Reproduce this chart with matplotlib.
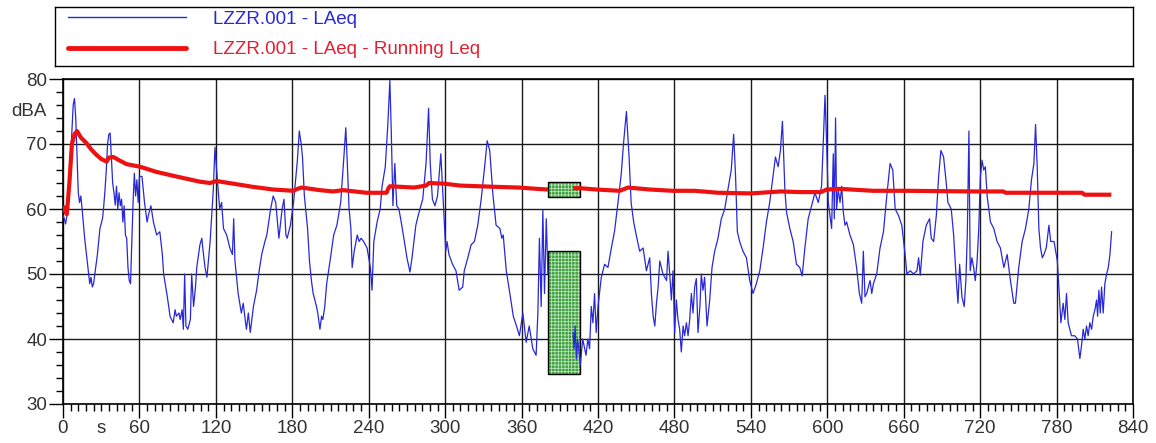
import numpy as np
import matplotlib
matplotlib.use("Agg")
import matplotlib.pyplot as plt
from matplotlib.patches import Rectangle
from matplotlib.lines import Line2D

plt.rcParams['font.family'] = ['Liberation Sans', 'DejaVu Sans']
plt.rcParams['hatch.linewidth'] = 0.6

# LAeq (blue) - time in s, level in dBA; None = no data
laeq_t = [0, 1, 2, 4, 6, 8, 9, 10, 11, 12, 13, 14, 15, 17, 19, 21, 22, 23, 24, 25, 27, 29, 31, 32, 33, 34, 35, 36, 37, 38, 39, 40,
          41, 42, 43, 44, 45, 46, 47, 48, 49, 50, 51, 52, 53, 54, 55, 56, 57, 58, 59, 60, 62, 64, 66, 67, 69, 71, 73.5, 76, 78, 79,
          81.5, 83, 84, 86.5, 88, 89, 91, 92, 93.5, 94.5, 95.5, 96.5, 98, 100, 101, 102.5, 104, 105, 107.5, 109, 110, 111.5, 113,
          115.5, 118, 119.3, 121, 123, 124.5, 126, 128.5, 131, 133, 134, 135, 137.5, 140, 141.5, 143, 144, 145.5, 147, 149.5,
          152, 154, 156, 158.5, 160, 163, 165, 167, 169.5, 172, 173.5, 175, 176, 178.5, 181, 184, 185.5, 187, 188, 189.5, 192,
          193.5, 195, 196.4, 197.7, 199, 200, 201.7, 203, 204, 205.5, 207, 210, 212.5, 215, 218, 220.5, 222, 223, 224.6, 226,
          227, 228.6, 231, 232.5, 234, 236, 238.7, 241.3, 242.6, 244, 246.6, 249, 250.5, 253, 255, 256.6, 257.7, 259, 260.5,
          262, 263.7, 265.5, 267.6, 270, 272.4, 274, 277, 279.5, 282.4, 285, 287, 288.3, 290, 292, 294, 296.6, 298, 299.2,
          300.5, 301.5, 303, 305.8, 308.5, 311, 313.8, 315, 317.8, 320.4, 323, 325.6, 328.3, 331, 333, 335, 337.6, 340, 343,
          344.5, 345.6, 348, 350.8, 353.5, 356, 358.3, 361, 363.6, 366, 368.8, 371.4, 372.8, 374, 375.4, 376.7, 378, 379.4,
          380.7, 390, 400.4, 401.2, 402, 403, 404, 406.1, 408, 410.6, 412, 413.4, 414.7, 416, 417.3, 418.6, 420, 422.6, 425.2,
          427.8, 430.5, 433, 435.7, 438.3, 440, 442.3, 444.4, 446, 448, 450, 452.7, 455.4, 458, 460.6, 461.9, 463.3, 464.6,
          465.9, 467.2, 468.5, 471, 473.8, 475, 476.3, 477.6, 478.9, 480.2, 481.5, 482.8, 484.1, 485.4, 486.8, 488, 489.4,
          490.7, 492, 493.3, 494.6, 495.9, 497.2, 498.5, 500, 501.1, 502.4, 503.7, 505.6, 507.7, 509.5, 511.6, 514.2, 516.8,
          519.5, 522, 524.6, 526.5, 528, 529.4, 531.2, 533.8, 536.5, 539.1, 541.7, 544.3, 547, 549.6, 552.2, 554.8, 557.4,
          559.3, 561.4, 563.2, 564.8, 566.7, 568, 570.6, 573.2, 575.8, 578.4, 580.3, 582.4, 585, 587.7, 590.3, 592.9, 595.5,
          596.8, 598.2, 599.5, 600.8, 602.1, 603.4, 604.7, 605.5, 606.5, 607.3, 608.6, 610, 611.3, 612.6, 613.9, 615.2, 617.8,
          620.5, 623, 625.2, 627, 628.3, 629.6, 630.9, 633.6, 634.9, 636.2, 638.8, 641.4, 644.1, 646.7, 649.3, 651.4, 653.3,
          655.9, 658.5, 661.1, 662.5, 665.1, 667.7, 670.4, 671.7, 673, 675.1, 677.7, 680.3, 681.6, 683.5, 685.6, 687.4, 689.2,
          691.3, 693.4, 694.7, 697.3, 699.2, 701.3, 702.6, 703.9, 705.7, 707.5, 708.8, 709.9, 711.2, 712.2, 713.5, 714.9,
          716.2, 717.6, 718.9, 720.2, 721.5, 722.8, 724.1, 725.5, 728.1, 730.7, 733.3, 735.9, 738.6, 741.2, 743.8, 746.4,
          747.7, 750.3, 753, 755.6, 758.2, 760.3, 762.2, 763.5, 764.8, 766.1, 767.4, 768.8, 770.1, 771.9, 774, 775.4, 778,
          780.6, 781.8, 783.4, 785.2, 786.5, 787.8, 789.1, 790.4, 791.7, 794.3, 796.4, 798.3, 799.6, 800.9, 802.2, 803.5,
          804.8, 806.1, 807.5, 808.8, 810.1, 811.4, 812.2, 813.2, 814.3, 815.3, 816.6, 817.9, 819.3, 820.6, 821.9, 823.2]
laeq_db = [59, 58.5, 57.7, 60, 68, 76, 77, 74, 68, 62.5, 61, 62, 60, 55.5, 52, 48.5, 49.5, 48, 48.5, 50, 53, 57, 58.5, 60.5, 63,
           66, 70, 71.5, 71.7, 68, 64, 62.5, 60.6, 63.5, 60, 62.5, 60.5, 61.5, 58, 60.5, 56, 55.5, 51, 49, 48.5, 55, 61, 65.5, 62,
           64.5, 61, 65, 65, 61, 58, 59, 60.5, 58, 56, 56.5, 53, 50, 47, 45, 43.5, 42.5, 44.5, 43.5, 44, 43, 44.5, 41.5, 50, 42,
           41.5, 43, 50, 45, 48, 51, 54.5, 55.5, 53.5, 51, 49.5, 55, 63, 69.5, 65, 60, 61, 57, 56, 54, 53, 58.5, 52, 47, 44, 45.5,
           43, 41.5, 44, 41, 45, 47.5, 50.5, 53, 55, 56, 60, 62, 61, 55.5, 60, 61.5, 56, 55.5, 57.5, 61, 67.5, 72, 70, 68, 62, 57,
           52, 49, 47, 46, 45, 44, 41.5, 43.5, 43, 45, 48.5, 52.5, 56, 57.5, 61, 68, 72.5, 68, 60, 57, 51, 53.5, 56, 55, 55.5, 55,
           54, 51, 47.5, 55, 58, 60, 63.5, 66.5, 73, 79.8, 72, 60.5, 67, 60.5, 60, 58, 55.5, 52.5, 50.3, 52.5, 57.5, 59.5, 61.5,
           67, 75.5, 67, 61.5, 60.5, 62, 68.5, 63, 58.5, 53.5, 55, 53, 51.5, 50.5, 47.5, 48, 50.5, 52.5, 54.5, 55, 57.5, 61.5,
           66.5, 70.5, 69, 62, 57.5, 57, 55.5, 56, 50.5, 47, 43.5, 42, 40.5, 44, 39.5, 42, 38.5, 37.5, 44, 55.5, 45, 59.8, 47,
           58.5, 50, None, 41, 38.5, 42, 37, 40, 36, 40, 37.5, 40, 38.5, 45, 42.5, 47, 41, 45, 49.5, 51.5, 51, 54, 56.6, 61, 65.5,
           70, 75, 68, 61, 58, 56, 53.5, 54, 50.5, 52.5, 47, 43.5, 42, 45.5, 48, 52, 50, 49, 53.5, 50, 46, 50.5, 41, 46, 43, 41.5,
           38, 42, 40.5, 42.5, 40.5, 43, 47, 44, 48, 49.3, 41, 45, 50, 47.5, 49.5, 42, 46, 51, 53.5, 55.5, 58.5, 60, 63, 66, 71.5,
           65, 56.5, 55, 53.5, 52.5, 49, 47, 48.5, 50.5, 54, 58, 61, 65, 68, 66.5, 69, 73.5, 63, 59.5, 57, 55, 51.5, 51, 49.7, 54,
           58.5, 60.5, 62.5, 61, 63.5, 70, 77.5, 70, 61, 59, 57, 68.5, 58.5, 74, 60, 63, 61, 63.5, 59.5, 57.5, 58, 56, 54.5, 51,
           47, 45.5, 53.5, 46.5, 47, 49, 47, 48.5, 50, 54, 56.5, 62, 67, 66, 60, 59, 57.5, 53, 50, 50.5, 50, 50.5, 52.5, 49.8, 55,
           57.5, 58.5, 55.5, 55, 59, 65, 69, 68, 64, 61, 60, 56, 49, 45.5, 51.5, 46.5, 45, 49, 56, 72, 50.5, 52.5, 51, 49, 52, 57,
           65, 67.5, 66, 66.5, 62, 58, 57, 55, 54, 51, 53, 49, 45.5, 45.5, 51, 55, 57, 60, 64.5, 67, 73, 66.5, 57, 54, 52.5, 53,
           54, 57.5, 55, 55, 52, 48, 42.5, 45.5, 43, 47, 42.5, 41.5, 40.5, 40.5, 40, 37, 39, 41.5, 40, 42, 40.5, 42.5, 41.5, 43.5,
           44.5, 46, 43.5, 47.5, 44, 48, 44, 48.5, 50, 51, 53, 56.5]

# Running Leq (red)
run_t = [0, 1, 3, 5, 7, 9, 11, 14, 18.6, 22, 26.4, 30, 34.3, 36, 39.5, 44, 50, 60.5, 73.5, 89, 107.5, 115.3, 120.5, 133.6,
         149.3, 165, 180.8, 184, 187.3, 201.7, 212, 220, 238, 254, 255.5, 256.6, 275.5, 285, 287.3, 299, 312, 341, 358, 372,
         380.7, 390, 400.4, 406, 418.6, 437, 443.5, 460.6, 478.5, 496, 514, 540, 563.6, 579, 595, 599.5, 610, 636, 662, 716,
         738, 740, 800, 802, 823]
run_db = [60.5, 59.8, 59.2, 64, 70, 71.5, 72, 71, 70.1, 69.2, 68.3, 67.7, 67.3, 67.9, 68, 67.5, 66.9, 66.5, 65.7, 65, 64.2, 64,
          64.3, 63.9, 63.4, 63, 62.8, 63.1, 63.3, 62.9, 62.7, 62.9, 62.5, 62.5, 63.2, 63.5, 63.3, 63.6, 64, 63.9, 63.6, 63.4,
          63.3, 63.1, 63.0, None, 63.2, 63.2, 63.0, 62.8, 63.3, 63.0, 62.8, 62.8, 62.5, 62.4, 62.7, 62.6, 62.6, 63.0, 63.1,
          62.8, 62.8, 62.7, 62.7, 62.5, 62.5, 62.2, 62.2]

# excluded period markers
mark_span = [381, 406]
mark_levels = [(61.9, 64.2), (34.6, 53.5)]

labels = ['LZZR.001 - LAeq', 'LZZR.001 - LAeq - Running Leq']
blue = '#2828d8'
red = '#ee1111'

laeq_db = np.array([np.nan if v is None else v for v in laeq_db])
run_db = np.array([np.nan if v is None else v for v in run_db])

fig = plt.figure(figsize=(11.56, 4.43), dpi=100)
ax = fig.add_axes([63 / 1156, 39 / 443, 1070 / 1156, 325 / 443])

# green boxes
for lo, hi in mark_levels:
    ax.add_patch(Rectangle((mark_span[0], lo), mark_span[1] - mark_span[0], hi - lo,
                           facecolor='#3f9f3f', edgecolor='#b8e4b8', hatch='+++++', lw=0, zorder=2))
    ax.add_patch(Rectangle((mark_span[0], lo), mark_span[1] - mark_span[0], hi - lo,
                           facecolor='none', edgecolor='black', lw=1.0, zorder=2.1))

ax.plot(laeq_t, laeq_db, color=blue, lw=0.9, zorder=3)
ax.plot(run_t, run_db, color=red, lw=3.0, zorder=4, solid_capstyle='butt')

ax.set_xlim(0, 840)
ax.set_ylim(30, 80)
ax.set_xticks(np.arange(0, 841, 60))
ax.set_xticks(np.arange(0, 841, 6), minor=True)
ax.set_yticks(np.arange(30, 81, 10))
ax.set_yticks(np.arange(30, 81, 2), minor=True)
ax.grid(True, which='major', color='#1a1a1a', lw=1.0)
ax.set_axisbelow(True)
ax.tick_params(which='major', length=10, width=1, pad=1.5, labelsize=13.5, labelcolor='#333333')
ax.tick_params(which='minor', length=5, width=1)
ax.tick_params(axis='x', which='both', top=False)
ax.tick_params(axis='y', which='both', right=False)
for s in ax.spines.values():
    s.set_color('black')
    s.set_linewidth(1.2)

ax.annotate('s', xy=(30, 0), xycoords=('data', 'axes fraction'), xytext=(0, -11.5), textcoords='offset points',
            ha='center', va='top', fontsize=13.5, color='#333333')
ax.annotate('dBA', xy=(0, 75), xycoords=('axes fraction', 'data'), xytext=(-11.5, 0), textcoords='offset points',
            ha='right', va='center', fontsize=13.5, color='#333333')

# legend box
lax = fig.add_axes([55 / 1156, 377 / 443, 1078 / 1156, 59 / 443])
lax.set_xticks([])
lax.set_yticks([])
for s in lax.spines.values():
    s.set_color('black')
    s.set_linewidth(1.0)
handles = [Line2D([], [], color=blue, lw=1.0), Line2D([], [], color=red, lw=3.5, solid_capstyle='round')]
lax.legend(handles, labels, loc='center left', bbox_to_anchor=(13 / 1078, 0.535), frameon=False, fontsize=13.5,
           handlelength=6.3, handletextpad=1.45, labelspacing=0.72, borderpad=0, borderaxespad=0,
           labelcolor=[blue, '#e02030'])

fig.savefig('out.png', dpi=100)
